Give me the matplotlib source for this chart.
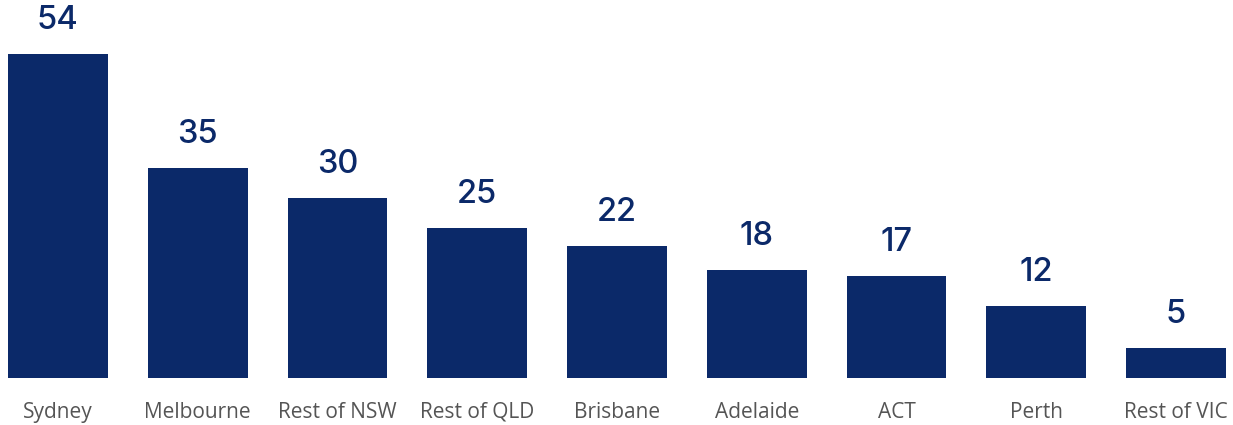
import matplotlib
matplotlib.use("Agg")
import matplotlib.pyplot as plt

regions = ["Sydney", "Melbourne", "Rest of NSW", "Rest of QLD", "Brisbane",
           "Adelaide", "ACT", "Perth", "Rest of VIC"]
counts = [54, 35, 30, 25, 22, 18, 17, 12, 5]

navy = "#0b2969"

fig = plt.figure(figsize=(12.33, 4.25), dpi=100)
ax = fig.add_axes([0, 47 / 425, 1, 378 / 425])

x = range(len(regions))
ax.bar(x, counts, width=100 / 140, color=navy)

for i, v in zip(x, counts):
    ax.annotate(str(v), (i, v), xytext=(0, 13), textcoords="offset points",
                ha="center", va="bottom", fontsize=23.5, color=navy,
                family="Inter", fontweight="medium")

ax.set_xticks(list(x))
ax.set_xticklabels(regions, fontsize=15, color="#555555", family="Open Sans")
ax.tick_params(axis="x", length=0, pad=17)
ax.set_yticks([])
for s in ax.spines.values():
    s.set_visible(False)

ax.set_xlim(-58 / 140, 8 + 57 / 140)
ax.set_ylim(0, 63)

fig.savefig("out.png", dpi=100)
